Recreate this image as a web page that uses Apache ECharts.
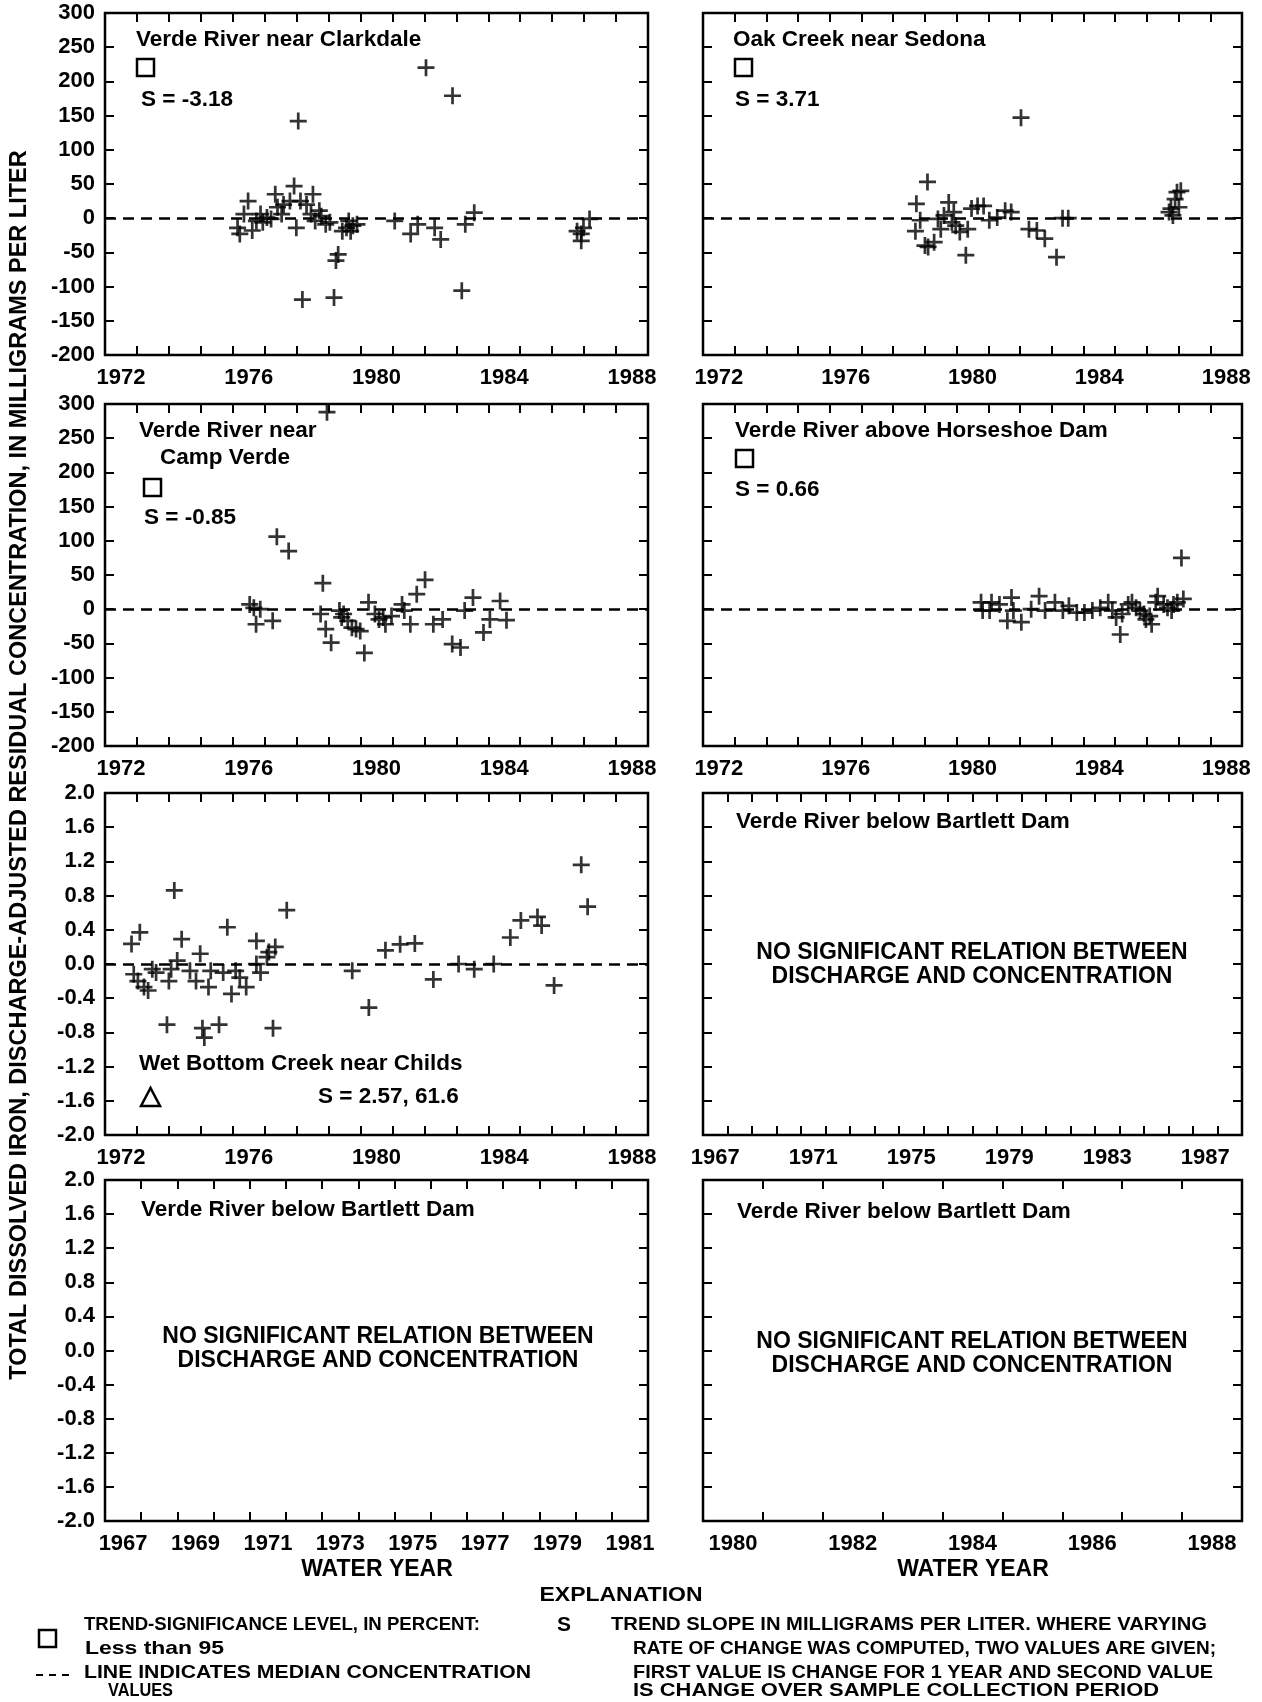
<!DOCTYPE html>
<html>
<head>
<meta charset="utf-8">
<script src="https://cdn.jsdelivr.net/npm/echarts@6/dist/echarts.min.js"></script>
<style>
  html, body { margin: 0; padding: 0; background: #fff; }
  #chart { width: 1262px; height: 1702px; }
</style>
</head>
<body>
<div id="chart"></div>
<script>
// residuals: [water year, residual]
var clarkdale = [
  [1975.65, -14], [1975.72, -23], [1975.98, 25], [1975.85, 6], [1976.11, -18], [1976.24, -4],
  [1976.37, 6], [1976.44, -6], [1976.57, 1], [1976.70, -1], [1976.83, 35], [1976.90, 16],
  [1977.03, 6], [1977.09, 20], [1977.29, 25], [1977.42, 47], [1977.49, -14], [1977.55, 142],
  [1977.62, 25], [1977.68, -119], [1977.81, 20], [1978.01, 35], [1977.95, 6], [1978.08, -4],
  [1978.21, 11], [1978.27, 3], [1978.41, -9], [1978.54, -6], [1978.67, -116], [1978.73, -62],
  [1978.80, -53], [1978.93, -19], [1979.06, -14], [1979.13, -4], [1979.19, -19], [1979.26, -11],
  [1979.39, -9], [1980.57, -4], [1981.07, -23], [1981.29, -9], [1981.55, 220], [1981.82, -14],
  [1982.01, -31], [1982.38, 179], [1982.67, -106], [1982.78, -9], [1983.06, 8], [1986.28, -19],
  [1986.41, -23], [1986.48, -14], [1986.41, -33], [1986.67, -1]
];
var oakCreek = [
  [1978.23, 21], [1978.35, -3], [1978.20, -19], [1978.58, 53], [1978.50, -40], [1978.60, -42],
  [1978.79, -35], [1978.91, -1], [1979.00, -16], [1979.10, 4], [1979.25, 23], [1979.35, -6],
  [1979.41, 9], [1979.47, -11], [1979.60, -20], [1979.79, -54], [1979.85, -16], [1979.97, 14],
  [1980.16, 18], [1980.35, 18], [1980.53, -3], [1980.78, 1], [1981.03, 11], [1981.22, 9],
  [1981.53, 147], [1981.78, -16], [1982.03, -18], [1982.28, -30], [1982.65, -57], [1982.84, 0],
  [1983.02, 0], [1986.20, 9], [1986.26, 14], [1986.32, 4], [1986.39, 28], [1986.45, 38],
  [1986.51, 16], [1986.57, 40]
];
var campVerde = [
  [1976.03, 7], [1976.16, 2], [1976.23, -22], [1976.36, 0], [1976.75, -17], [1976.88, 106],
  [1977.25, 85], [1978.45, 288], [1978.32, 38], [1978.25, -7], [1978.41, -29], [1978.58, -49],
  [1978.84, -2], [1978.91, -12], [1978.97, -7], [1979.10, -17], [1979.23, -27], [1979.36, -29],
  [1979.49, -32], [1979.62, -64], [1979.75, 10], [1979.95, -7], [1980.08, -15], [1980.21, -12],
  [1980.28, -22], [1980.47, -10], [1980.80, 7], [1980.87, -2], [1981.06, -22], [1981.26, 22],
  [1981.52, 43], [1981.78, -22], [1982.07, -15], [1982.37, -51], [1982.63, -56], [1982.76, -2],
  [1983.02, 17], [1983.35, -34], [1983.55, -15], [1983.87, 12], [1984.07, -16]
];
var horseshoe = [
  [1980.27, 10], [1980.32, -2], [1980.54, -2], [1980.60, 10], [1980.85, 7], [1981.10, -17],
  [1981.23, 17], [1981.29, -2], [1981.54, -19], [1981.85, 0], [1982.10, 19], [1982.29, -2],
  [1982.60, 10], [1982.85, -2], [1983.04, 5], [1983.29, -5], [1983.53, -5], [1983.78, -2],
  [1984.03, 2], [1984.28, 10], [1984.41, -2], [1984.53, -12], [1984.66, -37], [1984.72, -7],
  [1984.91, 7], [1985.03, 10], [1985.16, 2], [1985.28, -2], [1985.41, -7], [1985.47, -15],
  [1985.59, -10], [1985.65, -22], [1985.78, 10], [1985.84, 19], [1986.03, 7], [1986.15, 2],
  [1986.28, -2], [1986.34, 7], [1986.46, 10], [1986.59, 75], [1986.65, 15]
];
var wetBottom = [
  [1972.33, 0.235], [1972.59, 0.37], [1972.40, -0.12], [1972.53, -0.2], [1972.72, -0.27],
  [1972.85, -0.31], [1972.98, -0.06], [1973.10, -0.1], [1973.44, -0.71], [1973.50, -0.2],
  [1973.57, -0.06], [1973.67, 0.86], [1973.76, 0.04], [1973.90, 0.29], [1974.16, -0.08],
  [1974.35, -0.2], [1974.48, 0.12], [1974.55, -0.75], [1974.61, -0.86], [1974.74, -0.27],
  [1974.81, -0.08], [1975.07, -0.71], [1975.20, -0.1], [1975.33, 0.43], [1975.46, -0.35],
  [1975.59, -0.08], [1975.72, -0.16], [1975.92, -0.27], [1976.24, 0.27], [1976.24, 0.0],
  [1976.37, -0.1], [1976.57, 0.08], [1976.63, 0.14], [1976.76, -0.75], [1976.83, 0.2],
  [1977.19, 0.63], [1979.24, -0.08], [1979.76, -0.51], [1980.28, 0.16], [1980.74, 0.23],
  [1981.20, 0.24], [1981.78, -0.18], [1982.57, 0.0], [1983.06, -0.06], [1983.67, 0.0],
  [1984.19, 0.31], [1984.52, 0.51], [1985.04, 0.55], [1985.17, 0.45], [1985.56, -0.25],
  [1986.41, 1.16], [1986.61, 0.67]
];

var stationNames = [
  "Verde River near Clarkdale",
  "Oak Creek near Sedona",
  "Verde River near",
  "Verde River above Horseshoe Dam",
  "Wet Bottom Creek near Childs",
  "Verde River below Bartlett Dam",
  "Verde River below Bartlett Dam",
  "Verde River below Bartlett Dam"
];
var slopeTexts = ["S = -3.18", "S = 3.71", "S = -0.85", "S = 0.66", "S = 2.57, 61.6"];

var yearsA = [1972, 1976, 1980, 1984, 1988];
var yearsB = [1967, 1971, 1975, 1979, 1983, 1987];
var yearsC = [1967, 1969, 1971, 1973, 1975, 1977, 1979, 1981];
var yearsD = [1980, 1982, 1984, 1986, 1988];

var FONT = '"Liberation Sans", Arial, Helvetica, sans-serif';
var PLUS = 'path://M4.2,0H5.8V4.2H10V5.8H5.8V10H4.2V5.8H0V4.2H4.2Z';

var chart = echarts.init(document.getElementById("chart"));

// panel layout: [left, top, width, height, x labels, x min, x max, y kind, data, has median line]
var panels = [
  [105, 13, 543, 342, yearsA, 1971.5, 1988.5, "mg", clarkdale, true],
  [703, 13, 539, 342, yearsA, 1971.5, 1988.5, "mg", oakCreek, true],
  [105, 404, 543, 342, yearsA, 1971.5, 1988.5, "mg", campVerde, true],
  [703, 404, 539, 342, yearsA, 1971.5, 1988.5, "mg", horseshoe, true],
  [105, 793, 543, 342, yearsA, 1971.5, 1988.5, "fe", wetBottom, true],
  [703, 793, 539, 342, yearsB, 1966.5, 1988.5, "fe", null, false],
  [105, 1180, 543, 341, yearsC, 1966.5, 1981.5, "fe", null, false],
  [703, 1180, 539, 341, yearsD, 1979.5, 1988.5, "fe", null, false]
];

var grids = [], xAxes = [], yAxes = [], series = [];
var tickStyle = { color: "#000", width: 2 };

panels.forEach(function (p, i) {
  var leftCol = p[0] < 400;
  grids.push({
    left: p[0], top: p[1], width: p[2], height: p[3],
    show: true, borderColor: "#000", borderWidth: 2.5,
    containLabel: false, outerBoundsMode: "none"
  });
  var ticks = [];
  for (var t = p[5] + 1; t < p[6] - 0.01; t++) ticks.push(t);
  [["bottom", true], ["top", false]].forEach(function (pos) {
    xAxes.push({
      type: "value", gridIndex: i, position: pos[0], min: p[5], max: p[6],
      axisLine: { show: false, onZero: false }, splitLine: { show: false },
      axisTick: { show: true, inside: true, length: 9, lineStyle: tickStyle, customValues: ticks },
      axisLabel: {
        show: pos[1], customValues: p[4], margin: 12,
        formatter: function (v) { return String(v); },
        color: "#000", fontSize: 22, fontWeight: "bold", fontFamily: FONT
      }
    });
  });
  var mg = p[7] === "mg";
  [["left", leftCol], ["right", false]].forEach(function (pos) {
    yAxes.push({
      type: "value", gridIndex: i, position: pos[0],
      min: mg ? -200 : -2, max: mg ? 300 : 2, interval: mg ? 50 : 0.4,
      axisLine: { show: false, onZero: false }, splitLine: { show: false },
      axisTick: { show: true, inside: true, length: 9, lineStyle: tickStyle },
      axisLabel: {
        show: pos[1], margin: 10,
        formatter: function (v) { return mg ? String(Math.round(v)) : v.toFixed(1); },
        color: "#000", fontSize: 22, fontWeight: "bold", fontFamily: FONT
      }
    });
  });
  if (p[9]) {
    series.push({
      type: "scatter", xAxisIndex: 2 * i, yAxisIndex: 2 * i,
      data: p[8], symbol: PLUS, symbolSize: 17, silent: true,
      itemStyle: { color: "#000" },
      markLine: {
        silent: true, symbol: "none", label: { show: false },
        lineStyle: { type: [11, 7], color: "#000", width: 2.5 },
        data: [{ yAxis: 0 }]
      }
    });
  }
});

function txt(x, y, text, size, align, weight) {
  return {
    type: "text", x: x, y: y, silent: true,
    style: {
      text: text, fill: "#000", align: align || "left", verticalAlign: "middle",
      font: (weight || "bold") + " " + (size || 22.5) + "px " + FONT
    }
  };
}
// the explanation is set in a condensed face: squeeze a line to the width it has in the scan
var measureCtx = document.createElement("canvas").getContext("2d");
function fitTxt(x, y, text, width, size, align) {
  var el = txt(x, y, text, size, align);
  measureCtx.font = el.style.font;
  el.scaleX = width / measureCtx.measureText(text).width;
  return el;
}
function square(x, y) {
  return { type: "rect", silent: true, shape: { x: x, y: y, width: 17, height: 17 },
    style: { fill: "none", stroke: "#000", lineWidth: 2.5 } };
}

var graphics = [
  // station names, significance symbols and slopes
  txt(136, 40, stationNames[0]), square(137, 59), txt(141, 100, slopeTexts[0]),
  txt(733, 40, stationNames[1]), square(735, 59), txt(735, 100, slopeTexts[1]),
  txt(139, 431, stationNames[2]), txt(160, 458, "Camp Verde"), square(144, 479), txt(144, 518, slopeTexts[2]),
  txt(735, 431, stationNames[3]), square(736, 450), txt(735, 490, slopeTexts[3]),
  txt(139, 1064, stationNames[4]),
  { type: "polygon", silent: true, shape: { points: [[141, 1106], [150.5, 1088], [160, 1106]] },
    style: { fill: "none", stroke: "#000", lineWidth: 2.5 } },
  txt(318, 1097, slopeTexts[4]),
  txt(736, 822, stationNames[5]),
  txt(972, 953, "NO SIGNIFICANT RELATION BETWEEN", 23, "center"),
  txt(972, 977, "DISCHARGE AND CONCENTRATION", 23, "center"),
  txt(141, 1210, stationNames[6]),
  txt(378, 1337, "NO SIGNIFICANT RELATION BETWEEN", 23, "center"),
  txt(378, 1361, "DISCHARGE AND CONCENTRATION", 23, "center"),
  txt(737, 1212, stationNames[7]),
  txt(972, 1342, "NO SIGNIFICANT RELATION BETWEEN", 23, "center"),
  txt(972, 1366, "DISCHARGE AND CONCENTRATION", 23, "center"),
  // shared axis titles
  {
    type: "text", x: 20, y: 765, rotation: Math.PI / 2, silent: true,
    style: {
      text: "TOTAL DISSOLVED IRON, DISCHARGE-ADJUSTED RESIDUAL CONCENTRATION, IN MILLIGRAMS PER LITER",
      fill: "#000", align: "center", verticalAlign: "middle", font: "bold 23.5px " + FONT
    }
  },
  txt(377, 1570, "WATER YEAR", 23, "center"),
  txt(973, 1570, "WATER YEAR", 23, "center"),
  // explanation
  fitTxt(621, 1595, "EXPLANATION", 163, 21, "center"),
  fitTxt(84, 1625, "TREND-SIGNIFICANCE LEVEL, IN PERCENT:", 396, 18.5),
  square(39, 1630),
  fitTxt(85, 1649, "Less than 95", 139, 18.5),
  { type: "line", silent: true, shape: { x1: 36, y1: 1675, x2: 72, y2: 1675 },
    style: { stroke: "#000", lineWidth: 2, lineDash: [7, 6] } },
  fitTxt(84, 1673, "LINE INDICATES MEDIAN CONCENTRATION", 447, 18.5),
  fitTxt(108, 1691, "VALUES", 65, 18.5),
  txt(564, 1625, "S", 21, "center"),
  fitTxt(611, 1625, "TREND SLOPE IN MILLIGRAMS PER LITER. WHERE VARYING", 596, 18.5),
  fitTxt(633, 1649, "RATE OF CHANGE WAS COMPUTED, TWO VALUES ARE GIVEN;", 583, 18.5),
  fitTxt(633, 1673, "FIRST VALUE IS CHANGE FOR 1 YEAR AND SECOND VALUE", 580, 18.5),
  fitTxt(633, 1691, "IS CHANGE OVER SAMPLE COLLECTION PERIOD", 526, 18.5)
];

chart.setOption({
  animation: false,
  backgroundColor: "#fff",
  grid: grids,
  xAxis: xAxes,
  yAxis: yAxes,
  series: series,
  graphic: graphics
});
</script>
</body>
</html>
